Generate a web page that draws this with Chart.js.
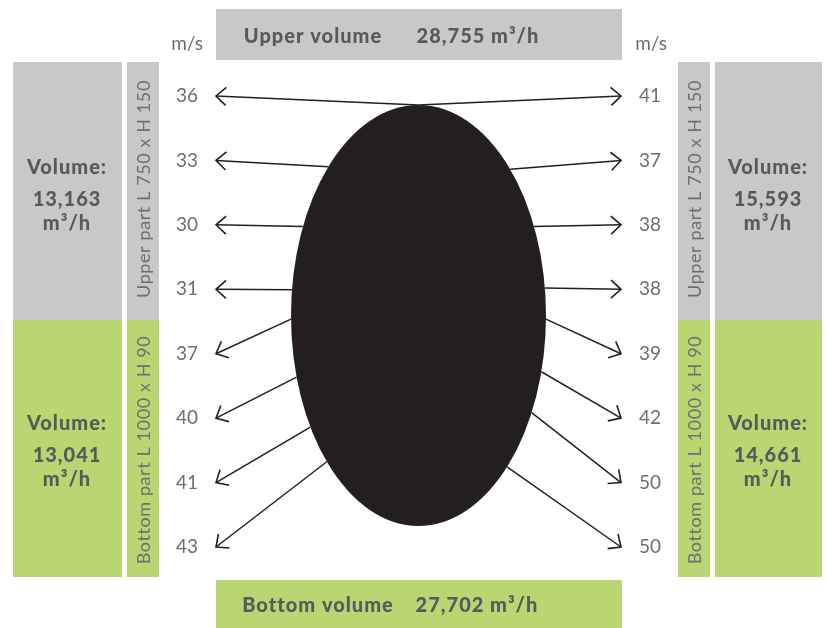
<!DOCTYPE html>
<html>
<head>
<meta charset="utf-8">
<script src="https://cdn.jsdelivr.net/npm/chart.js@4.4.1/dist/chart.umd.min.js"></script>
<style>
  html, body { margin: 0; padding: 0; background: #fff; }
  #wrap { width: 827px; height: 628px; }
</style>
</head>
<body>
<div id="wrap"><canvas id="myChart"></canvas></div>
<script>
// values
const leftSpeeds = [36, 33, 30, 31, 37, 40, 41, 43];
const rightSpeeds = [41, 37, 38, 38, 39, 42, 50, 50];
const speedUnit = "m/s";
const sectionNames = ["Upper part L 750 x H 150", "Bottom part L 1000 x H 90"];
const leftVolumes = [13163, 13041];
const rightVolumes = [15593, 14661];
const totalNames = ["Upper volume", "Bottom volume"];
const totalVolumes = [28755, 27702];
const volumeUnit = "m³/h";

// where each arrow leaves the ellipse (degrees on the ellipse)
const leftExit = [90, 135, 155, 173, 181, 197, 212, 224];
const rightExit = [90, 44, 25, 7.5, -1, -15.5, -27.5, -46];

// layout, in drawing units (same as the 827x628 picture)
const rowTop = 96, rowStep = 64.43;
const ell = { cx: 418.5, cy: 315.5, rx: 127.5, ry: 210.5 };
const tipLeft = 216, tipRight = 621;
const grey = "#c7c8ca", green = "#b9d673", ink = "#231f20";
const boldText = "#58595b", thinText = "#6d6e71";

const rowY = (i) => rowTop + rowStep * i;
const fmt = (v) => v.toLocaleString("en-US");

function exitPoint(deg) {
    const t = (deg * Math.PI) / 180;
    return { x: ell.cx + ell.rx * Math.cos(t), y: ell.cy - ell.ry * Math.sin(t) };
}

const datasets = [];
leftSpeeds.forEach((v, i) => {
    datasets.push({ label: "L" + i, data: [exitPoint(leftExit[i]), { x: tipLeft, y: rowY(i) }] });
});
rightSpeeds.forEach((v, i) => {
    datasets.push({ label: "R" + i, data: [exitPoint(rightExit[i]), { x: tipRight, y: rowY(i) }] });
});
datasets.forEach((d) => {
    d.borderColor = ink;
    d.borderWidth = 1.5;
    d.pointRadius = 0;
    d.fill = false;
});

const diagram = {
    id: "diagram",
    beforeDatasetsDraw(chart) {
        const { ctx, scales } = chart;
        const px = (x) => scales.x.getPixelForValue(x);
        const py = (y) => scales.y.getPixelForValue(y);
        const rect = (x0, y0, x1, y1, c) => {
            ctx.fillStyle = c;
            ctx.fillRect(px(x0), py(y0), px(x1) - px(x0), py(y1) - py(y0));
        };
        ctx.save();
        // top / bottom bars
        rect(216, 9, 622, 60, grey);
        rect(216, 580, 622, 628, green);
        // side columns
        [[13, 122], [127, 159], [678, 710], [715, 822]].forEach(([a, b]) => {
            rect(a, 62, b, 320, grey);
            rect(a, 320, b, 577, green);
        });

        ctx.textAlign = "center";
        ctx.textBaseline = "middle";
        ctx.fillStyle = boldText;
        ctx.font = "900 20px Lato";
        ctx.letterSpacing = "1px";
        ctx.fillText(totalNames[0], px(313), py(37));
        ctx.fillText(fmt(totalVolumes[0]) + " " + volumeUnit, px(478), py(37));
        ctx.fillText(totalNames[1], px(318), py(606));
        ctx.fillText(fmt(totalVolumes[1]) + " " + volumeUnit, px(477), py(606));

        const volBlock = (cx, y0, v) => {
            ctx.fillText("Volume:", px(cx), py(y0));
            ctx.fillText(fmt(v), px(cx), py(y0 + 32));
            ctx.fillText(volumeUnit, px(cx), py(y0 + 56));
        };
        volBlock(67, 168, leftVolumes[0]);
        volBlock(67, 424, leftVolumes[1]);
        volBlock(768, 168, rightVolumes[0]);
        volBlock(768, 424, rightVolumes[1]);

        // rotated section names
        ctx.fillStyle = thinText;
        ctx.font = "18px Lato";
        ctx.letterSpacing = "0.6px";
        [[143, 189, 0], [143, 450, 1], [694, 189, 0], [694, 450, 1]].forEach(([x, y, k]) => {
            ctx.save();
            ctx.translate(px(x), py(y));
            ctx.rotate(-Math.PI / 2);
            ctx.fillText(sectionNames[k], 0, 1);
            ctx.restore();
        });
        ctx.letterSpacing = "0px";

        // speeds
        ctx.font = "19px Lato";
        ctx.fillText(speedUnit, px(187), py(44));
        ctx.fillText(speedUnit, px(651), py(44));
        leftSpeeds.forEach((v, i) => ctx.fillText(String(v), px(tipLeft - 29), py(rowY(i))));
        rightSpeeds.forEach((v, i) => ctx.fillText(String(v), px(tipRight + 29), py(rowY(i))));
        ctx.restore();
    },
    afterDatasetsDraw(chart) {
        const { ctx, scales } = chart;
        ctx.save();
        // arrow heads
        ctx.strokeStyle = ink;
        ctx.lineWidth = 1.6;
        chart.data.datasets.forEach((d, i) => {
            const pts = chart.getDatasetMeta(i).data;
            const a = pts[0], b = pts[1];
            const len = Math.hypot(b.x - a.x, b.y - a.y);
            const ux = (b.x - a.x) / len, uy = (b.y - a.y) / len;
            ctx.beginPath();
            ctx.moveTo(b.x - 10 * ux - 9 * uy, b.y - 10 * uy + 9 * ux);
            ctx.lineTo(b.x, b.y);
            ctx.lineTo(b.x - 10 * ux + 9 * uy, b.y - 10 * uy - 9 * ux);
            ctx.stroke();
        });
        // the body
        const cx = scales.x.getPixelForValue(ell.cx);
        const cy = scales.y.getPixelForValue(ell.cy);
        const rx = scales.x.getPixelForValue(ell.cx + ell.rx) - cx;
        const ry = scales.y.getPixelForValue(ell.cy + ell.ry) - cy;
        ctx.fillStyle = ink;
        ctx.beginPath();
        ctx.ellipse(cx, cy, rx, Math.abs(ry), 0, 0, Math.PI * 2);
        ctx.fill();
        ctx.restore();
    },
};

const ctx = document.getElementById("myChart");

new Chart(ctx, {
    type: "line",
    data: { datasets: datasets },
    options: {
        animation: false,
        responsive: true,
        maintainAspectRatio: false,
        layout: { padding: 0 },
        scales: {
            x: { type: "linear", min: 0, max: 827, display: false },
            y: { type: "linear", min: 0, max: 628, reverse: true, display: false },
        },
        plugins: {
            legend: { display: false },
            tooltip: { enabled: false },
        },
    },
    plugins: [diagram],
});
</script>
</body>
</html>
